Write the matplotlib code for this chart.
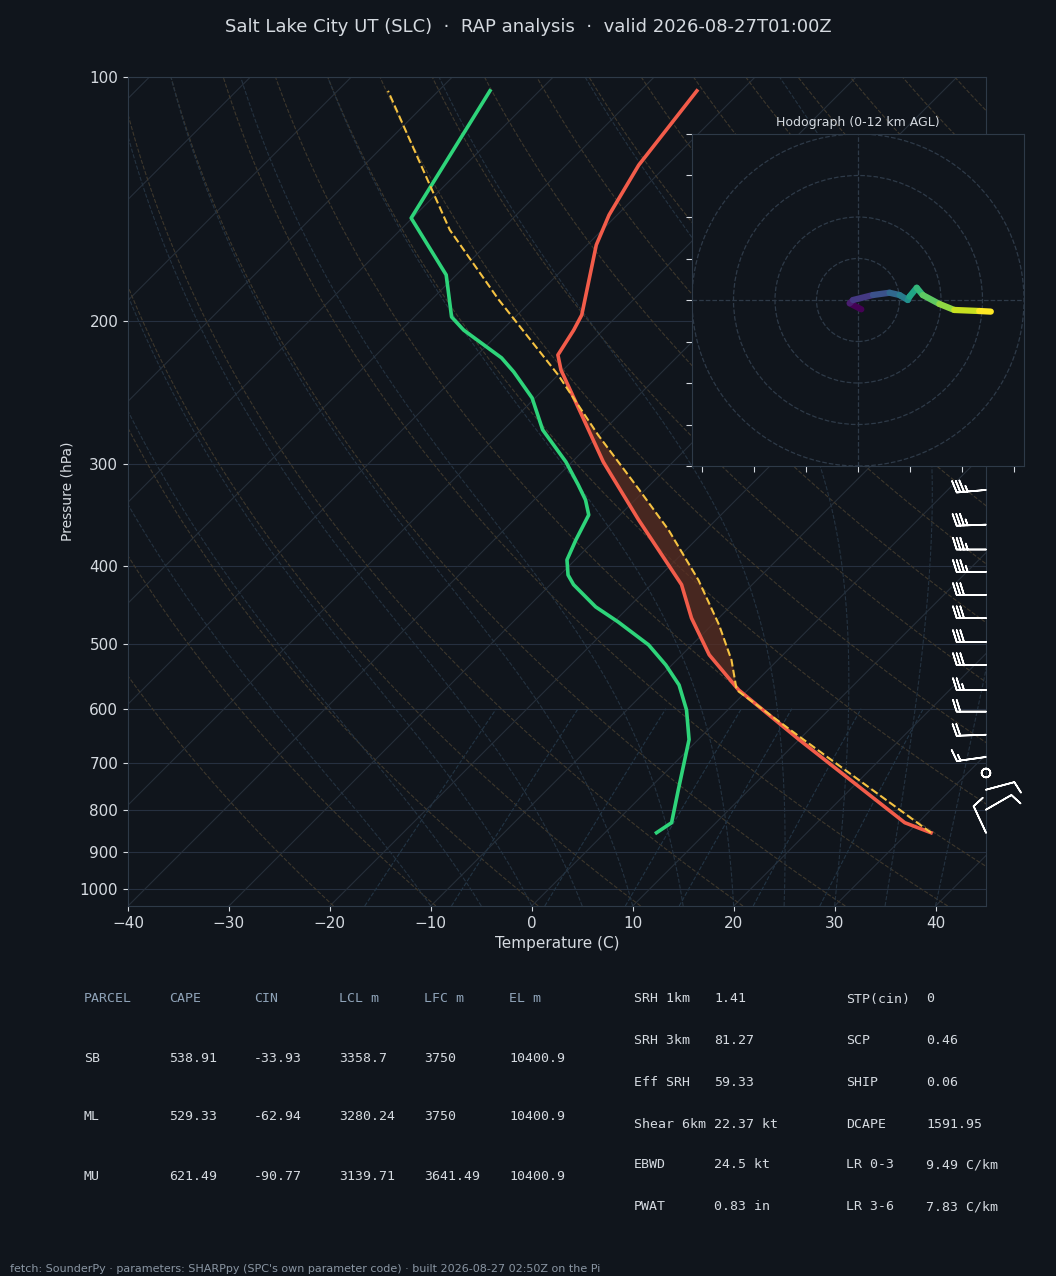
import numpy as np
import matplotlib
matplotlib.use("Agg")
import matplotlib.pyplot as plt
from matplotlib.collections import LineCollection

# ---------------- data ----------------
t_pres = [853, 829, 655, 569, 515, 464, 422, 351, 298, 229.6, 220, 205, 196.4, 161, 147.9, 128.4, 104]
t_temp = [32.3, 28.7, 10.0, -0.9, -7.3, -12.7, -17.0, -27.7, -36.9, -50.2, -52.0, -52.9, -53.6, -59.1, -60.8, -62.8, -64.4]

td_pres = [853, 829, 755, 655, 602, 561, 530, 500.6, 469, 449.5, 422, 410.6, 393.4, 371.7, 346.3, 331.9,
           318.1, 298, 272, 248.5, 230.8, 221.8, 205, 197.5, 175.3, 149.2, 104]
td_temp = [5.1, 5.6, 3.0, -0.9, -4.1, -7.3, -10.6, -14.3, -19.6, -23.3, -27.7, -29.2, -30.8, -31.9, -33.1, -34.9,
           -37.1, -40.6, -46.1, -50.3, -54.7, -57.3, -63.8, -66.3, -71.0, -80.1, -84.9]

parcel_pres = [853, 646, 569, 522.4, 473, 416.4, 361.4, 320.8, 276, 232.8, 188.2, 154.3, 104]
parcel_temp = [32.3, 9.3, -1.1, -4.6, -9.3, -15.8, -23.7, -30.9, -40.1, -50.0, -63.3, -75.1, -95.0]

barb_pres = [322.6, 356, 382, 407, 434.5, 464, 496.5, 530, 569, 605, 646, 688, 720, 755, 799, 853]
barb_spd = [35, 35, 35, 35, 30, 30, 30, 30, 25, 20, 20, 15, 0, 10, 10, 10]
barb_dir = [265, 268, 270, 270, 270, 270, 270, 270, 270, 270, 268, 262, 0, 75, 60, 335]

hodo_u = [1.6, -4.0, -2.4, 7.2, 15.2, 20.0, 24.0, 24.8, 28.3, 31.2, 39.2, 46.4, 58.4, 64.0]
hodo_v = [-4.5, -1.6, 0.0, 2.4, 3.5, 2.4, 0.0, 1.6, 5.9, 2.4, -1.9, -4.8, -5.3, -5.6]

tbl_header = ["PARCEL", "CAPE", "CIN", "LCL m", "LFC m", "EL m"]
tbl_rows = [["SB", "538.91", "-33.93", "3358.7", "3750", "10400.9"],
            ["ML", "529.33", "-62.94", "3280.24", "3750", "10400.9"],
            ["MU", "621.49", "-90.77", "3139.71", "3641.49", "10400.9"]]
idx_left = [("SRH 1km", "1.41"), ("SRH 3km", "81.27"), ("Eff SRH", "59.33"),
            ("Shear 6km", "22.37 kt"), ("EBWD", "24.5 kt"), ("PWAT", "0.83 in")]
idx_right = [("STP(cin)", "0"), ("SCP", "0.46"), ("SHIP", "0.06"),
             ("DCAPE", "1591.95"), ("LR 0-3", "9.49 C/km"), ("LR 3-6", "7.83 C/km")]

title = "Salt Lake City UT (SLC)  \u00b7  RAP analysis  \u00b7  valid 2026-08-27T01:00Z"
footer = "fetch: SounderPy \u00b7 parameters: SHARPpy (SPC's own parameter code) \u00b7 built 2026-08-27 02:50Z on the Pi"

# ---------------- style ----------------
BG = "#10151c"
SP = "#2e3a48"
TXT = "#d5dae0"
PBOT, PTOP = 1050., 100.
TMIN, TMAX = -40., 45.
fig = plt.figure(figsize=(10.56, 12.76), dpi=100, facecolor=BG)
ax = fig.add_axes([128/1056, 1-906/1276, 858/1056, 829/1276], facecolor=BG)
W, H = 858., 829.
K = H / W * (TMAX - TMIN)  # 45-degree skew, in degC over full height

def frac(p):
    return np.log10(PBOT/np.asarray(p, float)) / np.log10(PBOT/PTOP)

def skx(t, p):
    return np.asarray(t, float) + K*frac(p)

ax.set_yscale("log")
ax.set_ylim(PBOT, PTOP)
ax.set_xlim(TMIN, TMAX)
pt = [100, 200, 300, 400, 500, 600, 700, 800, 900, 1000]
ax.set_yticks(pt)
ax.set_yticklabels([str(v) for v in pt])
ax.yaxis.set_minor_locator(matplotlib.ticker.NullLocator())
ax.set_xticks(np.arange(-40, 41, 10))
ax.set_xticklabels([f"\u2212{-v}" if v < 0 else str(v) for v in range(-40, 41, 10)])
ax.tick_params(colors=TXT, labelsize=11)
for s in ax.spines.values():
    s.set_color(SP)
ax.set_xlabel("Temperature (C)", color=TXT, fontsize=11)
ax.set_ylabel("Pressure (hPa)", color=TXT, fontsize=10)
for p in pt:
    ax.axhline(p, color="#263040", lw=0.8, zorder=1)

pp = np.logspace(np.log10(PBOT), np.log10(PTOP), 100)
for t0 in np.arange(-160, 50, 10):
    ax.plot(skx(np.full_like(pp, t0), pp), pp, color="#262f3a", lw=0.8, zorder=1)
for th in np.arange(250, 480, 10):
    tt = th*(pp/1000.)**0.286 - 273.15
    ax.plot(skx(tt, pp), pp, color="#3d372c", lw=0.8, ls="--", zorder=1)

def es(t):
    return 6.112*np.exp(17.67*t/(t+243.5))
def moist(t0):
    ps = np.linspace(1050, 100, 400)
    ts = [t0]
    for i in range(1, len(ps)):
        T = ts[-1] + 273.15
        ws = 0.622*es(ts[-1])/(ps[i-1]-es(ts[-1]))
        Lv, Rd, cp, eps = 2.5e6, 287.0, 1005.0, 0.622
        g = (Rd*T + Lv*ws)/(cp + Lv*Lv*ws*eps/(Rd*T*T)) / ps[i-1]
        ts.append(ts[-1] + g*(ps[i]-ps[i-1]))
    return ps, np.array(ts)
for t0 in np.arange(-10, 45, 5):
    ps, ts = moist(t0)
    ax.plot(skx(ts, ps), ps, color="#243240", lw=0.8, ls="--", zorder=1)
pm = np.linspace(1050, 600, 30)
for w in [1, 2, 4, 7, 10, 16, 24]:
    e = w*pm/(622.+w)
    le = np.log(e/6.112)
    td = 243.5*le/(17.67-le)
    ax.plot(skx(td, pm), pm, color="#223444", lw=0.8, ls="--", zorder=1)

pfill = np.logspace(np.log10(560), np.log10(226), 80)
tp = np.interp(np.log(pfill), np.log(parcel_pres[::-1]), parcel_temp[::-1])
te = np.interp(np.log(pfill), np.log(t_pres[::-1]), t_temp[::-1])
ax.fill_betweenx(pfill, skx(te, pfill), skx(tp, pfill), where=tp > te, color="#5a2e22", alpha=0.75, zorder=2, lw=0)

ax.plot(skx(t_temp, t_pres), t_pres, color="#f25c4a", lw=2.6, zorder=4)
ax.plot(skx(td_temp, td_pres), td_pres, color="#2ed47a", lw=2.6, zorder=4)
ax.plot(skx(parcel_temp, parcel_pres), parcel_pres, color="#f5c242", lw=1.5, ls="--", zorder=5)

bs = np.array(barb_spd, float); bd = np.radians(barb_dir)
bu = -bs*np.sin(bd); bv = -bs*np.cos(bd)
ax.barbs(np.full(len(barb_pres), TMAX), barb_pres, bu, bv, color="white", length=6.5,
         lw=1.2, clip_on=False, zorder=6, sizes=dict(emptybarb=0.15))

fig.text(0.5, 1-27/1276, title, color=TXT, fontsize=13, ha="center", va="center")

# ---------------- hodograph ----------------
hx = fig.add_axes([692/1056, 1-466/1276, 332/1056, 332/1276], facecolor=BG)
hx.set_xlim(-80, 80); hx.set_ylim(-80, 80)
for s in hx.spines.values():
    s.set_color(SP)
hx.set_xticks(np.arange(-75, 80, 25)); hx.set_yticks(np.arange(-80, 81, 20))
hx.set_xticklabels([]); hx.set_yticklabels([])
hx.tick_params(colors=TXT, length=4)
for r in [20, 40, 60, 80]:
    hx.add_patch(plt.Circle((0, 0), r, fill=False, ls="--", color="#2e3a48", lw=0.9))
hx.axhline(0, color="#2e3a48", ls="--", lw=0.9); hx.axvline(0, color="#2e3a48", ls="--", lw=0.9)
pts = np.column_stack([hodo_u, hodo_v])
segs = np.stack([pts[:-1], pts[1:]], axis=1)
lc = LineCollection(segs, cmap="viridis", lw=4.5, capstyle="round")
lc.set_array(np.arange(len(segs)))
hx.add_collection(lc)
hx.set_title("Hodograph (0-12 km AGL)", color=TXT, fontsize=9)

# ---------------- table ----------------
mono = "DejaVu Sans Mono"
HC = "#8fa3b8"
cx = [84, 169, 254, 339, 424, 509]
for x, h in zip(cx, tbl_header):
    fig.text(x/1056, 1-999/1276, h, color=HC, fontsize=9.5, family=mono, va="center")
for ri, row in enumerate(tbl_rows):
    y = [1058, 1117, 1176][ri]
    for x, v in zip(cx, row):
        fig.text(x/1056, 1-y/1276, v, color=TXT, fontsize=9.5, family=mono, va="center")
ys = [999, 1041, 1082, 1124, 1165, 1207]
for y, (a, b) in zip(ys, idx_left):
    fig.text(634/1056, 1-y/1276, a, color=TXT, fontsize=9.5, family=mono, va="center")
    fig.text(714/1056, 1-y/1276, b, color=TXT, fontsize=9.5, family=mono, va="center")
for y, (a, b) in zip(ys, idx_right):
    fig.text(846/1056, 1-y/1276, a, color=TXT, fontsize=9.5, family=mono, va="center")
    fig.text(926/1056, 1-y/1276, b, color=TXT, fontsize=9.5, family=mono, va="center")
fig.text(10/1056, 1-1269/1276, footer, color="#8a96a3", fontsize=8, va="center")

fig.savefig("out.png", dpi=100, facecolor=BG)
